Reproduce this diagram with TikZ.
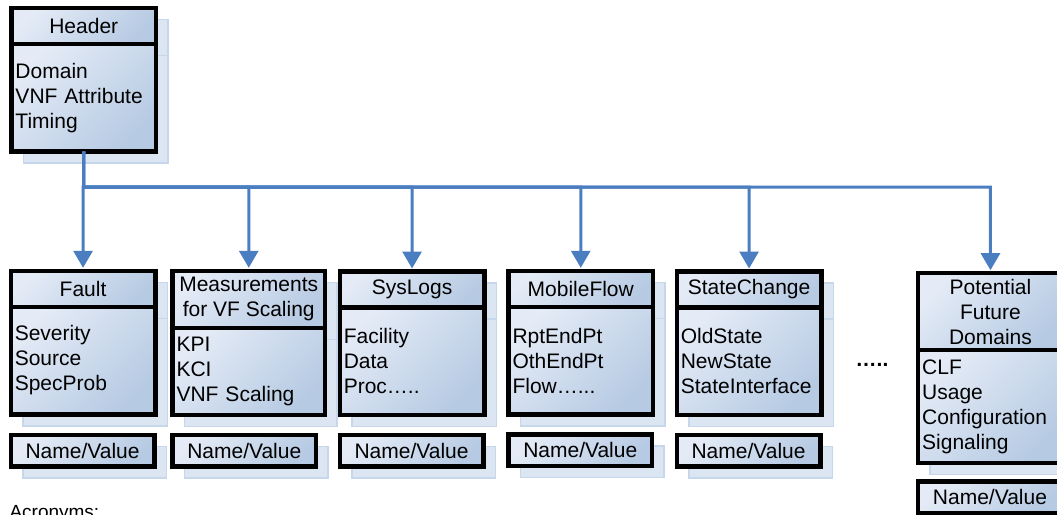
\documentclass[tikz,border=0pt]{standalone}
\usepackage{fontspec}
\setmainfont{Liberation Sans}
\usepackage{tikz}
\usetikzlibrary{arrows.meta, positioning, shadows}
\usepackage{xcolor}

\definecolor{boxlight}{RGB}{228,235,246}
\definecolor{boxdark}{RGB}{182,202,227}
\definecolor{shadowfill}{RGB}{220,230,242}
\definecolor{shadowedge}{RGB}{198,214,235}
\definecolor{linkblue}{RGB}{74,126,193}

\begin{document}
\begin{tikzpicture}[
        x=1pt, y=-1pt,
        event/.style={
          draw,
          rectangle,
          line width=4.5pt,
          outer sep=0pt,
          top color=boxlight,
          bottom color=boxdark,
          shading angle=45,
          drop shadow={shadow xshift=12pt, shadow yshift=-11.5pt, opacity=1,
            fill=shadowfill, draw=shadowedge, line width=1.5pt},
          font=\fontsize{21}{25}\selectfont
        },
        heading/.style={
          event,
          minimum width=144.5pt,
          minimum height=36pt,
          inner sep=0pt,
          align=center
        },
        fields/.style={
          event,
          text width=136.5pt,
          minimum height=107.5pt,
          inner xsep=4pt,
          inner ysep=0pt,
          align=left
        },
        namevalue/.style={
          event,
          minimum width=143.5pt,
          minimum height=31.5pt,
          inner sep=0pt
        },
        arrow/.style={-{Triangle[width=19pt, length=17pt]}, line width=3pt, draw=linkblue, shorten >=3pt}
      ]
      \useasboundingbox (0,0) rectangle (1057,514);

      % Common header
      \node[heading, anchor=north west] (header) at (11.5,8.2) {Header};
      \node[fields, below=0pt of header] (headerbody) {Domain\\VNF Attribute\\Timing};

      % Domains
      \node[heading, anchor=north west] (fault) at (10.8,270.8) {Fault};
      \node[fields, below=0pt of fault] (faultbody) {Severity\\Source\\SpecProb};
      \node[namevalue, below right=20.5pt and 0pt of faultbody.south west] (faultnv) {Name/Value};

      \node[heading, anchor=north west, minimum width=152.5pt, minimum height=57.2pt] (meas) at (172.5,270.8) {Measurements\\for VF Scaling};
      \node[fields, below=0pt of meas, text width=144.5pt, minimum height=87pt] (measbody) {KPI\\KCI\\VNF Scaling};
      \node[namevalue, below right=20pt and 0pt of measbody.south west] (measnv) {Name/Value};

      \node[heading, anchor=north west] (syslogs) at (339.8,271.5) {SysLogs};
      \node[fields, below=0pt of syslogs] (syslogsbody) {Facility\\Data\\Proc\dots..};
      \node[namevalue, below right=20pt and 0pt of syslogsbody.south west] (syslogsnv) {Name/Value};

      \node[heading, anchor=north west] (mobile) at (508.5,270.8) {MobileFlow};
      \node[fields, below=0pt of mobile] (mobilebody) {RptEndPt\\OthEndPt\\Flow\dots...};
      \node[namevalue, below right=20pt and 0pt of mobilebody.south west] (mobilenv) {Name/Value};

      \node[heading, anchor=north west] (state) at (676.8,271.5) {StateChange};
      \node[fields, below=0pt of state] (statebody) {OldState\\NewState\\StateInterface};
      \node[namevalue, below right=20pt and 0pt of statebody.south west] (statenv) {Name/Value};

      \node[font=\fontsize{21}{25}\selectfont\bfseries, anchor=base] (more) at (872,366) {\dots..};

      \node[heading, anchor=north west, minimum height=76.8pt] (future) at (918.2,273.2) {Potential\\Future\\Domains};
      \node[fields, below=0pt of future, minimum height=113.2pt] (futurebody) {CLF\\Usage\\Configuration\\Signaling};
      \node[namevalue, below right=18.3pt and 0pt of futurebody.south west] (futurenv) {Name/Value};

      % Header to domains
      \coordinate (bus) at (83.7,187);
      \foreach \dom in {fault, meas, syslogs, mobile, state, future}
        \draw[arrow] (headerbody.south) -- (bus) -| (\dom.north);

      \node[anchor=base west, font=\fontsize{19}{23}\selectfont] (acronyms) at (6,518.5) {Acronyms:};

    \end{tikzpicture}
\end{document}
